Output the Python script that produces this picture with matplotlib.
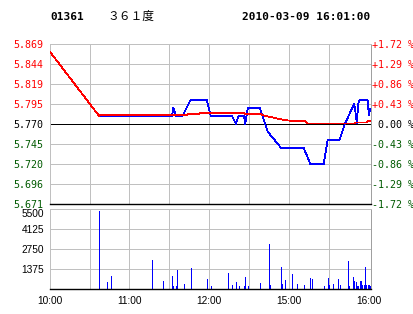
import matplotlib
matplotlib.use("Agg")
import matplotlib.pyplot as plt

# ---------------- data ----------------
stock_code = "01361"
stock_name = "３６１度"
timestamp = "2010-03-09 16:01:00"
prev_close = 5.770

# price line (minute index from 10:00, price)
price_min = [0, 37, 92, 93, 95, 100, 106, 118, 121, 137, 140, 142, 146, 147, 149, 158,
             164, 174, 191, 196, 206, 209, 218, 222, 229, 231, 232, 233, 239, 240, 241]
price_val = [5.860, 5.780, 5.780, 5.790, 5.780, 5.780, 5.800, 5.800, 5.780, 5.780, 5.770,
             5.780, 5.780, 5.770, 5.790, 5.790, 5.760, 5.740, 5.740, 5.720, 5.720, 5.750,
             5.750, 5.770, 5.795, 5.771, 5.795, 5.800, 5.800, 5.781, 5.789]

# average price line
avg_min = [0, 37, 38, 103, 104, 112, 113, 146, 147, 159, 160, 161, 168, 172, 179, 188, 192,
           194, 229, 230, 238, 239, 241]
avg_val = [5.860, 5.780, 5.781, 5.781, 5.7824, 5.7824, 5.7832, 5.7832, 5.782, 5.782, 5.781,
           5.7803, 5.7778, 5.7762, 5.7741, 5.7733, 5.7733, 5.7705, 5.7705, 5.7716,
           5.7716, 5.7733, 5.7733]

# volume bars
vol_min = [0, 37, 43, 46, 77, 85, 92, 93, 95, 96, 101, 106, 118, 121, 134, 137, 140, 142,
           146, 147, 149, 158, 165, 166, 174, 175, 177, 182, 186, 191, 196, 197, 206, 209,
           210, 213, 217, 218, 224, 225, 228, 229, 230, 231, 232, 233, 234, 235, 236, 237,
           238, 239, 240, 241]
vol_val = [160, 5380, 440, 860, 1970, 510, 860, 160, 160, 1275, 300, 1410, 650, 160, 1065,
           230, 440, 160, 160, 790, 160, 370, 3085, 230, 1480, 300, 580, 1000, 300, 230,
           720, 650, 160, 720, 230, 300, 650, 230, 1900, 160, 790, 510, 440, 160, 160, 510,
           510, 230, 230, 1480, 230, 230, 230, 160]

price_ticks = [5.8692, 5.8444, 5.8196, 5.7948, 5.770, 5.7452, 5.7204, 5.6956, 5.6708]
price_labels = ["5.869", "5.844", "5.819", "5.795", "5.770", "5.745", "5.720", "5.696", "5.671"]
pct_labels = ["+1.72 %", "+1.29 %", "+0.86 %", "+0.43 %", " 0.00 %", "-0.43 %", "-0.86 %",
              "-1.29 %", "-1.72 %"]
vol_ticks = [1375, 2750, 4125, 5500]
vol_labels = ["1375", "2750", "4125", "5500"]
time_ticks = [0, 60, 120, 180, 240]
time_labels = ["10:00", "11:00", "12:00", "15:00", "16:00"]

# ---------------- style ----------------
W, H = 414, 314
RED = "#ff0000"
GREEN = "#005a00"
GRID = "#c0c0c0"
BORDER = "#a0a0a0"
PX = 0.72  # one pixel in points
LW = 0.55
mono = "DejaVu Sans Mono"

fig = plt.figure(figsize=(W / 100, H / 100), dpi=100)
fig.patch.set_facecolor("white")


def rect(x0, y0, x1, y1):
    return [x0 / W, 1 - y1 / H, (x1 - x0) / W, (y1 - y0) / H]


ax = fig.add_axes(rect(49.7, 44, 371, 203.6))
axv = fig.add_axes(rect(49.7, 209.3, 371, 288.6))

XMAX = 241.6
for a in (ax, axv):
    a.set_xlim(0, XMAX)
    for sp in ("top", "left"):
        a.spines[sp].set_color(GRID)
        a.spines[sp].set_linewidth(PX)
    a.spines["right"].set_color(BORDER)
    a.spines["right"].set_linewidth(PX)
    a.spines["bottom"].set_color("black")
    a.spines["bottom"].set_linewidth(1.0)
    for xv in [30, 60, 90, 120, 150, 180, 210]:
        a.axvline(xv, color=GRID, lw=PX, zorder=0.5, antialiased=False)

# ---- main price axes ----
ax.set_ylim(price_ticks[-1], price_ticks[0])
for t in price_ticks[1:-1]:
    if abs(t - prev_close) > 1e-6:
        ax.axhline(t, color=GRID, lw=PX, zorder=0.5, antialiased=False)
ax.axhline(prev_close, color="black", lw=PX, zorder=1, antialiased=False)

ax.plot(price_min, price_val, color="#0000ff", lw=LW, zorder=2, antialiased=False)
ax.plot(avg_min, avg_val, color=RED, lw=LW, zorder=3, antialiased=False)

ax.set_xticks([])
ax.set_yticks(price_ticks)
ax.set_yticklabels(price_labels, family=mono, fontsize=7.2)
ax.tick_params(axis="y", length=0, pad=4.3)
for lbl, t in zip(ax.get_yticklabels(), price_ticks):
    lbl.set_color(RED if t > prev_close + 1e-6 else ("black" if abs(t - prev_close) < 1e-6 else GREEN))

ax2 = ax.twinx()
ax2.set_ylim(ax.get_ylim())
ax2.set_yticks(price_ticks)
ax2.set_yticklabels(pct_labels, family=mono, fontsize=7.2)
ax2.tick_params(axis="y", length=0, pad=0.5)
for sp in ax2.spines.values():
    sp.set_visible(False)
for lbl, t in zip(ax2.get_yticklabels(), price_ticks):
    lbl.set_color(RED if t > prev_close + 1e-6 else ("black" if abs(t - prev_close) < 1e-6 else GREEN))

# ---- volume axes ----
axv.set_ylim(0, 5500)
for t in vol_ticks[:-1]:
    axv.axhline(t, color=GRID, lw=PX, zorder=0.5, antialiased=False)
axv.vlines(vol_min, 0, vol_val, colors="#0000ff", lw=PX, zorder=2, antialiased=False)
axv.set_yticks(vol_ticks)
axv.set_yticklabels(vol_labels, family="Liberation Sans", fontsize=7.3)
axv.tick_params(axis="y", length=0, pad=4.0)
axv.get_yticklabels()[-1].set_va("top")
axv.set_xticks(time_ticks)
axv.set_xticklabels(time_labels, family="Liberation Sans", fontsize=7.3)
axv.tick_params(axis="x", length=0, pad=5.0)

# ---- header ----
ty = 1 - 16.5 / H
fig.text(50 / W, ty, stock_code, family=mono, fontweight="bold", fontsize=8, va="center", ha="left")
fig.text(107 / W, ty, stock_name, family=["Noto Sans CJK SC", "DejaVu Sans"], fontsize=8.5,
         va="center", ha="left")
fig.text(370 / W, ty, timestamp, family=mono, fontweight="bold", fontsize=8, va="center", ha="right")

fig.savefig("out.png", dpi=100, facecolor="white")
